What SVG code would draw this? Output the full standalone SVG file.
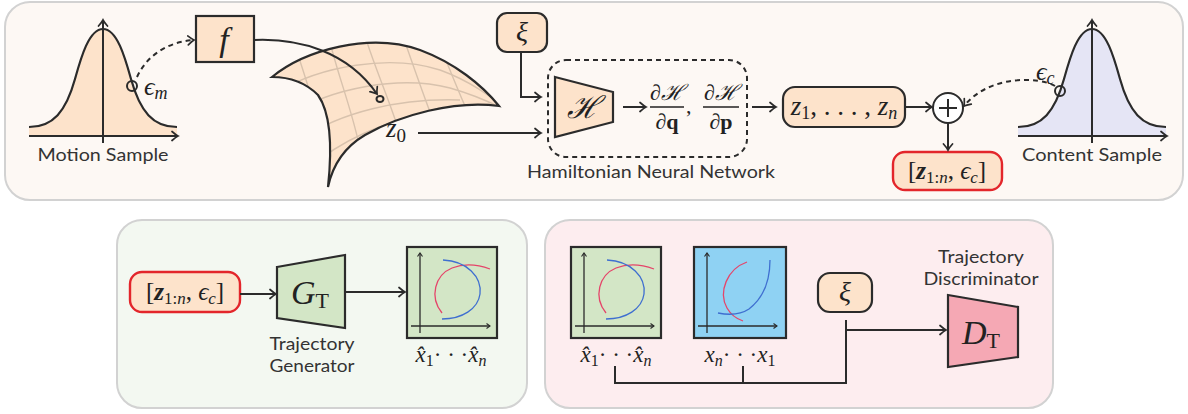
<svg xmlns="http://www.w3.org/2000/svg" width="1188" height="414" viewBox="0 0 1188 414">
<style>
.panel{stroke:#d2d2d2;stroke-width:2}
.ln{fill:none;stroke:#2b2b2b;stroke-width:2}
.dash{fill:none;stroke:#2b2b2b;stroke-width:2;stroke-dasharray:5 4}
.box{stroke:#2b2b2b;stroke-width:2.2}
.peach{fill:#fde3cb}
.red{fill:#fde3cb;stroke:#e3262b;stroke-width:2.4}
.m{font-family:'Liberation Serif','DejaVu Serif',serif;font-style:italic;fill:#222}
.r{font-family:'Liberation Serif','DejaVu Serif',serif;font-style:normal;fill:#222}
.s{font-family:Lato,'Open Sans','DejaVu Sans',sans-serif;fill:#333;font-size:17px}
.grid{fill:none;stroke:#d8c2ad;stroke-width:1.4}
.pc{fill:none;stroke-width:1.3}
</style>
<defs>
<marker id="ah" viewBox="-7 -6 9 12" markerWidth="9" markerHeight="12" refX="0" refY="0" orient="auto" markerUnits="userSpaceOnUse">
<path d="M-6,-4.5 Q-2,-1 0,0 Q-2,1 -6,4.5" fill="none" stroke="#2b2b2b" stroke-width="1.7" stroke-linecap="round"/>
</marker>
<marker id="as" viewBox="-5 -4 6 8" markerWidth="6" markerHeight="8" refX="0" refY="0" orient="auto" markerUnits="userSpaceOnUse">
<path d="M-3.5,-2.5 L0,0 L-3.5,2.5" fill="none" stroke="#2b2b2b" stroke-width="1.1"/>
</marker>
<path id="gcurve" d="M-74,0 C-50,0 -37,-15.6 -28,-48 C-22,-69.6 -14,-98 0,-98 C14,-98 22,-69.6 28,-48 C37,-15.6 50,0 74,0"/>
<path id="gfill" d="M-74,0 C-50,0 -37,-15.6 -28,-48 C-22,-69.6 -14,-98 0,-98 C14,-98 22,-69.6 28,-48 C37,-15.6 50,0 74,0 L74,9 L-74,9 Z"/>
<clipPath id="mclip">
<path d="M272,77 C305,50 370,32 420,50 C455,63 482,85 499,106 C455,100 400,115 365,135 C343,148 332,168 328,187 C332,150 332,115 318,95 C305,82 290,77 272,77 Z"/>
</clipPath>
<g id="plotaxes">
<line x1="13" y1="86" x2="13" y2="6" stroke="#2b2b2b" stroke-width="1.3" marker-end="url(#as)"/>
<line x1="4" y1="79" x2="83" y2="79" stroke="#2b2b2b" stroke-width="1.3" marker-end="url(#as)"/>
</g>
<g id="genplot">
<rect x="0" y="0" width="90" height="91" fill="#d3e6c6" class="box"/>
<use href="#plotaxes"/>
<path class="pc" stroke="#e5456a" d="M35,66 C22,50 28,28 45,21 C58,16 72,18 83,22"/>
<path class="pc" stroke="#3f6fd0" d="M36,13 C60,14 75,30 73,47 C71,62 55,72 35,72"/>
</g>
</defs>

<!-- panels -->
<rect class="panel" x="5" y="2" width="1178" height="198" rx="25" fill="#fdf8f4"/>
<rect class="panel" x="117" y="220" width="410" height="188" rx="25" fill="#f3f8f1"/>
<rect class="panel" x="545" y="220" width="508" height="188" rx="25" fill="#fdedef"/>

<!-- Motion sample gaussian -->
<g id="motion-sample">
<use href="#gfill" transform="translate(103,127)" fill="#fde3cb"/>
<use href="#gcurve" transform="translate(103,127)" fill="none" stroke="#2b2b2b" stroke-width="2.2"/>
<line class="ln" x1="103" y1="143" x2="103" y2="20" marker-end="url(#ah)"/>
<line class="ln" x1="29" y1="136" x2="178" y2="136" marker-end="url(#ah)"/>
<circle cx="132" cy="86" r="5" fill="none" stroke="#2b2b2b" stroke-width="2"/>
<text class="m" x="144" y="95" font-size="26">ϵ<tspan font-size="18" dy="4">m</tspan></text>
<text class="s" x="103" y="161" text-anchor="middle" textLength="131" lengthAdjust="spacingAndGlyphs">Motion Sample</text>
</g>

<!-- f box -->
<g id="f-box">
<rect class="box peach" x="196" y="16" width="58" height="46"/>
<text class="m" x="224" y="51" font-size="34" text-anchor="middle">f</text>
</g>

<!-- manifold -->
<g id="manifold">
<path d="M272,77 C305,50 370,32 420,50 C455,63 482,85 499,106 C455,100 400,115 365,135 C343,148 332,168 328,187 C332,150 332,115 318,95 C305,82 290,77 272,77 Z" fill="#fde3cb"/>
<g clip-path="url(#mclip)">
<path class="grid" d="M278,92 C320,66 390,54 440,70 C470,81 490,96 505,108"/>
<path class="grid" d="M290,115 C330,88 400,75 450,88 C478,96 492,103 505,110"/>
<path class="grid" d="M300,140 C340,112 400,98 460,100"/>
<path class="grid" d="M310,168 C340,140 380,124 440,108"/>
<path class="grid" d="M298,55 C308,85 318,115 322,155"/>
<path class="grid" d="M330,42 C338,75 350,105 358,140"/>
<path class="grid" d="M365,36 C374,65 386,92 396,122"/>
<path class="grid" d="M405,42 C413,65 421,88 430,112"/>
<path class="grid" d="M445,58 C452,75 458,90 465,106"/>
</g>
<path d="M272,77 C305,50 370,32 420,50 C455,63 482,85 499,106 C455,100 400,115 365,135 C343,148 332,168 328,187 C332,150 332,115 318,95 C305,82 290,77 272,77 Z" fill="none" stroke="#2b2b2b" stroke-width="2.2" stroke-linejoin="miter"/>
<ellipse cx="380" cy="99" rx="3.5" ry="3" fill="none" stroke="#2b2b2b" stroke-width="2"/>
<text class="m" x="386" y="137" font-size="27">z<tspan class="r" font-size="19" dy="5">0</tspan></text>
</g>

<!-- xi top -->
<g id="xi-top">
<rect class="box peach" x="497" y="13" width="50" height="39" rx="10"/>
<text class="m" x="522" y="41" font-size="28" text-anchor="middle">ξ</text>
</g>

<!-- HNN -->
<g id="hnn">
<rect class="dash" x="548" y="60" width="199" height="97" rx="18"/>
<polygon class="box peach" points="555,77 613,92 613,122 555,137"/>
<text class="m" x="583" y="118" font-size="31" text-anchor="middle">ℋ</text>
<text class="m" x="667" y="100" font-size="22" text-anchor="middle"><tspan font-style="normal">∂</tspan>ℋ</text>
<line x1="650" y1="107" x2="684" y2="107" stroke="#222" stroke-width="1.7"/>
<text class="r" x="667" y="129" font-size="22" text-anchor="middle">∂<tspan font-weight="bold">q</tspan></text>
<text class="r" x="686" y="113" font-size="22">,</text>
<text class="m" x="721" y="100" font-size="22" text-anchor="middle"><tspan font-style="normal">∂</tspan>ℋ</text>
<line x1="703" y1="107" x2="739" y2="107" stroke="#222" stroke-width="1.7"/>
<text class="r" x="721" y="129" font-size="22" text-anchor="middle">∂<tspan font-weight="bold">p</tspan></text>
<text class="s" x="651" y="178" text-anchor="middle" textLength="248" lengthAdjust="spacingAndGlyphs">Hamiltonian Neural Network</text>
</g>

<!-- z sequence -->
<g id="z-seq">
<rect class="box peach" x="783" y="87" width="122" height="40" rx="12"/>
<text class="m" x="844" y="115" font-size="27" text-anchor="middle">z<tspan class="r" font-size="18" dy="4">1</tspan><tspan class="r" dy="-4">, . . . , </tspan>z<tspan font-size="18" dy="4">n</tspan></text>
</g>

<!-- plus -->
<g id="plus">
<circle cx="948" cy="108" r="15" fill="#fff" stroke="#2b2b2b" stroke-width="2"/>
<path d="M939,108 H957 M948,99 V117" stroke="#2b2b2b" stroke-width="2" fill="none"/>
</g>

<!-- latent top -->
<g id="latent-top">
<rect class="red" x="893" y="152" width="109" height="38" rx="12"/>
<text class="r" x="947" y="179" font-size="25" text-anchor="middle">[<tspan font-style="italic" font-weight="bold">z</tspan><tspan font-size="17" dy="4">1:<tspan font-style="italic">n</tspan></tspan><tspan dy="-4">, </tspan><tspan font-style="italic">ϵ</tspan><tspan font-style="italic" font-size="17" dy="4">c</tspan><tspan dy="-4">]</tspan></text>
</g>

<!-- Content sample -->
<g id="content-sample">
<use href="#gfill" transform="translate(1092,127)" fill="#e5e5f5"/>
<use href="#gcurve" transform="translate(1092,127)" fill="none" stroke="#2b2b2b" stroke-width="2.2"/>
<line class="ln" x1="1092" y1="143" x2="1092" y2="20" marker-end="url(#ah)"/>
<line class="ln" x1="1018" y1="136" x2="1167" y2="136" marker-end="url(#ah)"/>
<circle cx="1060" cy="91" r="5" fill="none" stroke="#2b2b2b" stroke-width="2"/>
<text class="m" x="1036" y="80" font-size="26">ϵ<tspan font-size="18" dy="4">c</tspan></text>
<text class="s" x="1092" y="161" text-anchor="middle" textLength="140" lengthAdjust="spacingAndGlyphs">Content Sample</text>
</g>

<!-- Bottom left -->
<g id="latent-bottom">
<rect class="red" x="130" y="272" width="110" height="40" rx="12"/>
<text class="r" x="185" y="300" font-size="25" text-anchor="middle">[<tspan font-style="italic" font-weight="bold">z</tspan><tspan font-size="17" dy="4">1:<tspan font-style="italic">n</tspan></tspan><tspan dy="-4">, </tspan><tspan font-style="italic">ϵ</tspan><tspan font-style="italic" font-size="17" dy="4">c</tspan><tspan dy="-4">]</tspan></text>
</g>
<g id="generator">
<polygon class="box" fill="#d3e6c6" points="277,267 345,255 345,328 277,318"/>
<text class="m" x="310" y="304" font-size="34" text-anchor="middle">G<tspan class="r" font-size="22" dy="4">T</tspan></text>
<text class="s" x="312" y="350" text-anchor="middle" textLength="85" lengthAdjust="spacingAndGlyphs">Trajectory</text>
<text class="s" x="312" y="372" text-anchor="middle" textLength="85" lengthAdjust="spacingAndGlyphs">Generator</text>
</g>
<g id="gen-plot">
<use href="#genplot" transform="translate(407,247)"/>
<text class="m" x="451" y="362" font-size="23" text-anchor="middle">x̂<tspan class="r" font-size="16" dy="4">1</tspan><tspan class="r" dy="-4">· · ·</tspan>x̂<tspan font-size="16" dy="4">n</tspan></text>
</g>

<!-- Bottom right -->
<g id="fake-plot">
<use href="#genplot" transform="translate(571,247)"/>
<text class="m" x="616" y="362" font-size="23" text-anchor="middle">x̂<tspan class="r" font-size="16" dy="4">1</tspan><tspan class="r" dy="-4">· · ·</tspan>x̂<tspan font-size="16" dy="4">n</tspan></text>
</g>
<g id="real-plot">
<rect x="694" y="247" width="92" height="91" fill="#8fd2f3" class="box"/>
<use href="#plotaxes" transform="translate(694,247)"/>
<path class="pc" stroke="#e5456a" transform="translate(694,247)" d="M53,15 C33,22 24,45 33,61 C37,68 43,72 49,74"/>
<path class="pc" stroke="#3f6fd0" transform="translate(694,247)" d="M76,13 C76,35 68,52 55,62 C46,68 34,68 24,66"/>
<text class="m" x="740" y="362" font-size="23" text-anchor="middle">x<tspan font-size="16" dy="4">n</tspan><tspan class="r" dy="-4">· · ·</tspan>x<tspan class="r" font-size="16" dy="4">1</tspan></text>
</g>
<g id="xi-bottom">
<rect class="box peach" x="818" y="273" width="54" height="39" rx="12"/>
<text class="m" x="845" y="301" font-size="28" text-anchor="middle">ξ</text>
</g>
<g id="discriminator">
<polygon class="box" fill="#f5a8b4" points="948,295 1018,307 1018,357 948,367"/>
<text class="m" x="981" y="344" font-size="34" text-anchor="middle">D<tspan class="r" font-size="22" dy="4">T</tspan></text>
<text class="s" x="981" y="263" text-anchor="middle" textLength="86" lengthAdjust="spacingAndGlyphs">Trajectory</text>
<text class="s" x="981" y="285" text-anchor="middle" textLength="115" lengthAdjust="spacingAndGlyphs">Discriminator</text>
</g>

<!-- connectors -->
<g id="connectors">
<path class="dash" d="M137,77 C146,57 166,42 194,40" marker-end="url(#ah)"/>
<path class="ln" d="M254,40 C300,38 348,52 377,94" marker-end="url(#ah)"/>
<path class="ln" d="M418,133 L541,133" marker-end="url(#ah)"/>
<path class="ln" d="M521,52 V97 H541" marker-end="url(#ah)"/>
<path class="ln" d="M623,107 L646,107" marker-end="url(#ah)"/>
<path class="ln" d="M752,107 L776,107" marker-end="url(#ah)"/>
<path class="ln" d="M905,107 L932,107" marker-end="url(#ah)"/>
<path class="dash" d="M1055,86 C1040,77 990,74 964,106" marker-end="url(#ah)"/>
<path class="ln" d="M948,123 L948,150" marker-end="url(#ah)"/>
<path class="ln" d="M240,294 L276,294" marker-end="url(#ah)"/>
<path class="ln" d="M345,292 L405,292" marker-end="url(#ah)"/>
<path class="ln" d="M615,366 V383 H846 V320"/>
<path class="ln" d="M743,366 V383"/>
<path class="ln" d="M846,330 H946" marker-end="url(#ah)"/>
</g>
</svg>
